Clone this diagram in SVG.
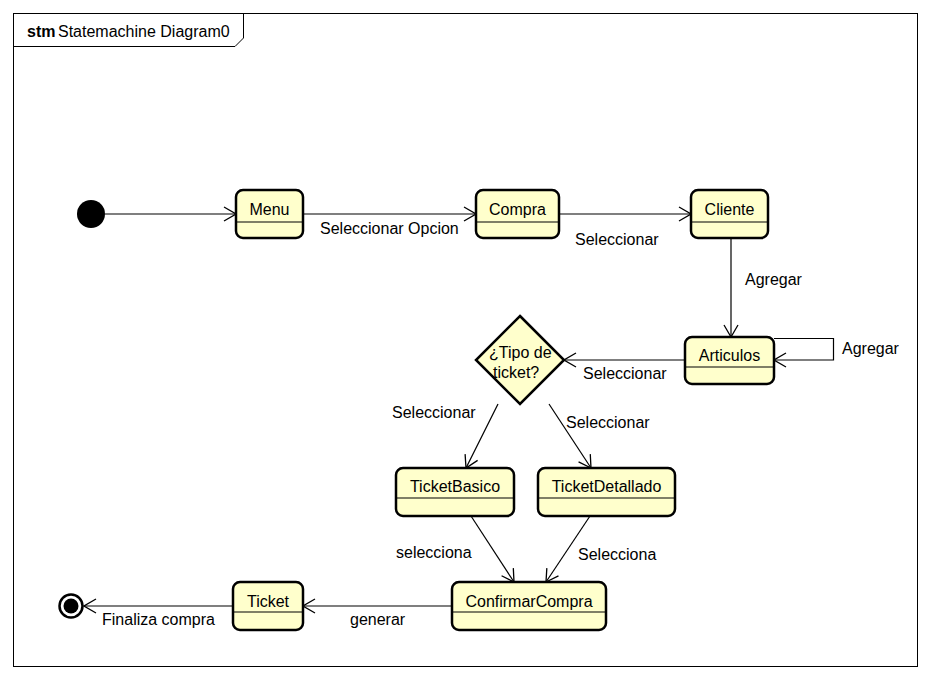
<svg xmlns="http://www.w3.org/2000/svg" width="932" height="680" viewBox="0 0 932 680">
  <style>
    text { font-family: "Liberation Sans", Arial, sans-serif; font-size: 16px; fill: #000; }
    .state { fill: #ffffcc; stroke: #000; stroke-width: 2.5; }
    .div { stroke: #000; stroke-width: 1.2; }
    .edge { fill: none; stroke: #000; stroke-width: 1.2; }
    .mid { text-anchor: middle; }
  </style>
  <defs>
    <marker id="open" viewBox="0 0 14 16" refX="13" refY="8" markerWidth="14" markerHeight="16" markerUnits="userSpaceOnUse" orient="auto">
      <path d="M1,1 L13,8 L1,15" fill="none" stroke="#000" stroke-width="1.3"/>
    </marker>
  </defs>

  <!-- frame -->
  <g id="frame">
    <rect x="13.5" y="13.5" width="904" height="653" fill="#fff" stroke="#000" stroke-width="1"/>
    <path d="M13.5,46.5 H235 L243.5,38 V13.5" fill="none" stroke="#000" stroke-width="1"/>
    <text x="27" y="37"><tspan font-weight="bold">stm</tspan><tspan x="58">Statemachine Diagram0</tspan></text>
  </g>

  <!-- connectors -->
  <g id="connectors">
    <path class="edge" d="M105,214 H236" marker-end="url(#open)"/>
    <path class="edge" d="M303,214 H476" marker-end="url(#open)"/>
    <text x="320" y="234">Seleccionar Opcion</text>
    <path class="edge" d="M559,214 H691" marker-end="url(#open)"/>
    <text x="575" y="245">Seleccionar</text>
    <path class="edge" d="M731,238 V337" marker-end="url(#open)"/>
    <text x="745" y="285">Agregar</text>
    <path class="edge" d="M774,338.5 H833.5 V360 H774" marker-end="url(#open)"/>
    <text x="842" y="354">Agregar</text>
    <path class="edge" d="M685,360 H564" marker-end="url(#open)"/>
    <text x="583" y="379">Seleccionar</text>
    <path class="edge" d="M498,404 L466,468" marker-end="url(#open)"/>
    <text x="392" y="418">Seleccionar</text>
    <path class="edge" d="M549,404 L591,468" marker-end="url(#open)"/>
    <text x="566" y="428">Seleccionar</text>
    <path class="edge" d="M471,516 L514,582" marker-end="url(#open)"/>
    <text x="396" y="558">selecciona</text>
    <path class="edge" d="M590,516 L546,582" marker-end="url(#open)"/>
    <text x="578" y="560">Selecciona</text>
    <path class="edge" d="M452,606 H303" marker-end="url(#open)"/>
    <text x="350" y="625">generar</text>
    <path class="edge" d="M233,606 H84" marker-end="url(#open)"/>
    <text x="102" y="625">Finaliza compra</text>
  </g>

  <!-- nodes -->
  <g id="initial">
    <circle cx="91" cy="214" r="14" fill="#000"/>
  </g>
  <g id="menu">
    <rect class="state" x="236" y="190" width="67" height="48" rx="7"/>
    <line class="div" x1="237" y1="222" x2="302" y2="222"/>
    <text class="mid" x="269.5" y="215">Menu</text>
  </g>
  <g id="compra">
    <rect class="state" x="476" y="190" width="83" height="48" rx="7"/>
    <line class="div" x1="477" y1="222" x2="558" y2="222"/>
    <text class="mid" x="517.5" y="215">Compra</text>
  </g>
  <g id="cliente">
    <rect class="state" x="691" y="190" width="77" height="48" rx="7"/>
    <line class="div" x1="692" y1="222" x2="767" y2="222"/>
    <text class="mid" x="729.5" y="215">Cliente</text>
  </g>
  <g id="articulos">
    <rect class="state" x="685" y="337" width="89" height="47" rx="7"/>
    <line class="div" x1="686" y1="367" x2="773" y2="367"/>
    <text class="mid" x="729.5" y="361">Articulos</text>
  </g>
  <g id="tipo-ticket">
    <path d="M520,316 L564,360 L520,404 L476,360 Z" fill="#ffffcc" stroke="#000" stroke-width="2.5" stroke-linejoin="miter"/>
    <text x="489" y="358">¿Tipo de</text>
    <text x="493" y="378">ticket?</text>
  </g>
  <g id="ticket-basico">
    <rect class="state" x="396" y="468" width="118" height="48" rx="7"/>
    <line class="div" x1="397" y1="498" x2="513" y2="498"/>
    <text class="mid" x="455" y="492">TicketBasico</text>
  </g>
  <g id="ticket-detallado">
    <rect class="state" x="538" y="468" width="137" height="48" rx="7"/>
    <line class="div" x1="539" y1="498" x2="674" y2="498"/>
    <text class="mid" x="606.5" y="492">TicketDetallado</text>
  </g>
  <g id="confirmar-compra">
    <rect class="state" x="452" y="582" width="154" height="48" rx="7"/>
    <line class="div" x1="453" y1="612" x2="605" y2="612"/>
    <text class="mid" x="529" y="607">ConfirmarCompra</text>
  </g>
  <g id="ticket">
    <rect class="state" x="233" y="582" width="70" height="48" rx="7"/>
    <line class="div" x1="234" y1="612" x2="302" y2="612"/>
    <text class="mid" x="268" y="607">Ticket</text>
  </g>
  <g id="final">
    <circle cx="71" cy="606" r="11.5" fill="#fff" stroke="#000" stroke-width="2.5"/>
    <circle cx="71" cy="606" r="7.5" fill="#000"/>
  </g>
</svg>
